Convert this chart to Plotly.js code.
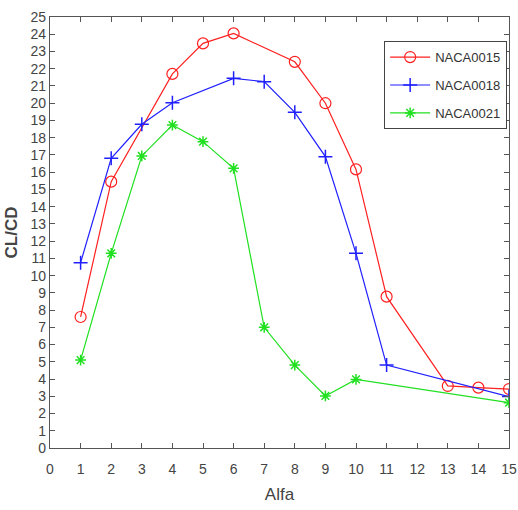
<!DOCTYPE html>
<html><head><meta charset="utf-8">
<script src="https://cdn.plot.ly/plotly-3.0.1.min.js"></script>
<style>html,body{margin:0;padding:0;background:#fff}#c{width:518px;height:510px}</style>
</head><body><div id="c"></div>
<script>
const x15 = [1,2,4,5,6,8,9,10,11,13,14,15];
const y15 = [7.6,15.45,21.7,23.47,24.05,22.4,20.0,16.16,8.78,3.6,3.5,3.42];
const x18 = [1,2,3,4,6,7,8,9,10,11,15];
const y18 = [10.75,16.8,18.78,20.03,21.44,21.25,19.47,16.9,11.29,4.81,2.98];
const x21 = [1,2,3,4,5,6,7,8,9,10,15];
const y21 = [5.1,11.29,16.94,18.73,17.77,16.22,7.0,4.81,3.02,3.98,2.63];
const names = ['NACA0015','NACA0018','NACA0021'];
const xTicks = [0,1,2,3,4,5,6,7,8,9,10,11,12,13,14,15];
const yTicks = Array.from({length:26},(_, i)=>i);

const traces = [
  {x:x15,y:y15,name:names[0],legendgroup:'a',mode:'lines+markers',line:{color:'#ff2020',width:1.2},
   marker:{symbol:'circle-open',size:11,color:'#ff2020',line:{width:1.2}}},
  {x:x18,y:y18,name:names[1],legendgroup:'b',mode:'lines+markers',line:{color:'#2020ff',width:1.2},
   marker:{symbol:'cross-thin-open',size:10,color:'#2020ff',line:{width:1.5}}},
  {x:x21,y:y21,name:names[2],legendgroup:'c',mode:'lines+markers',line:{color:'#20e020',width:1.2},
   marker:{symbol:'asterisk-open',size:9,color:'#20e020',line:{width:1.5}}}
];
const ax = {showgrid:false,zeroline:false,showline:true,linecolor:'#555',linewidth:1.2,
  mirror:'ticks',ticks:'inside',ticklen:5,tickcolor:'#555',
  tickfont:{family:'Liberation Sans, Arial',size:14,color:'#444'}};
const layout = {
  width:518,height:510,paper_bgcolor:'#fff',plot_bgcolor:'#fff',
  margin:{l:50,r:9,t:17,b:62},
  xaxis:Object.assign({},ax,{range:[0,15],tickvals:xTicks,ticklabelstandoff:8,
    title:{text:'Alfa',font:{family:'Liberation Sans, Arial',size:17,color:'#444'},standoff:12}}),
  yaxis:Object.assign({},ax,{range:[0,25],tickvals:yTicks,
    title:{text:'<b>CL/CD</b>',font:{family:'Liberation Sans, Arial',size:17,color:'#444'},standoff:8}}),
  showlegend:true,
  legend:{x:0.728,y:0.944,xanchor:'left',yanchor:'top',bgcolor:'#fff',bordercolor:'#444',borderwidth:1,
    font:{family:'Liberation Sans, Arial',size:13,color:'#333'},itemwidth:40,tracegroupgap:8}
};
Plotly.newPlot('c',traces,layout,{displayModeBar:false,staticPlot:true});
</script></body></html>
